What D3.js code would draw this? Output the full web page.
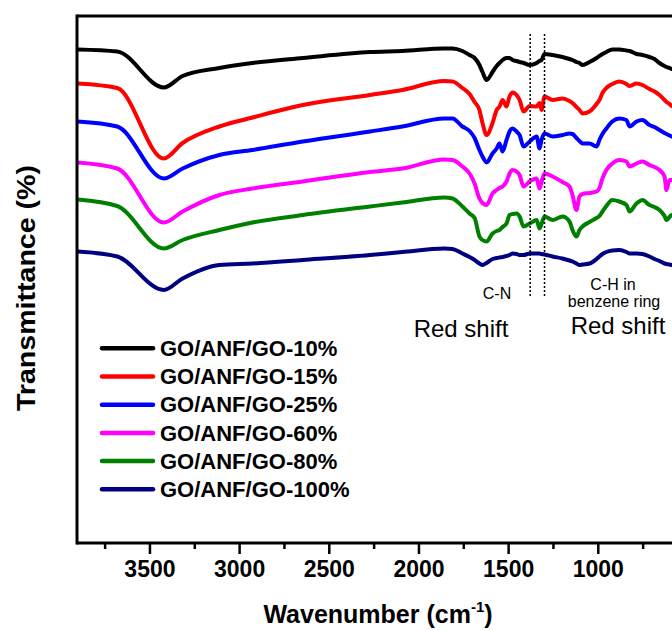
<!DOCTYPE html>
<html>
<head>
<meta charset="utf-8">
<script src="https://cdn.jsdelivr.net/npm/d3@7/dist/d3.min.js"></script>
<style>
  html, body { margin: 0; padding: 0; background: #fff; }
  svg { display: block; font-family: "Liberation Sans", Arial, sans-serif; }
</style>
</head>
<body>
<svg id="chart" width="672" height="630"></svg>
<script>
// ---------- data ----------
const wavenumbers = [3900, 3680, 3420, 3315, 3110, 2925, 2645, 2270, 2090, 1855, 1810, 1755, 1715, 1687, 1660, 1643, 1620, 1587, 1564, 1548, 1531, 1509, 1492, 1475, 1453, 1436, 1414, 1380, 1341, 1325, 1314, 1297, 1252, 1197, 1158, 1141, 1119, 1102, 1085, 1046, 1007, 991, 974, 952, 919, 880, 840, 823, 784, 751, 712, 684, 656, 628, 617, 600, 589];

const seriesNames = ["GO/ANF/GO-10%", "GO/ANF/GO-15%", "GO/ANF/GO-25%", "GO/ANF/GO-60%", "GO/ANF/GO-80%", "GO/ANF/GO-100%"];
const seriesColors = ["#000000", "#ff0000", "#0000ff", "#ff00ff", "#008000", "#000080"];

const go10 = [98.7, 98.3, 91.1, 93.4, 95, 96, 97, 98.2, 98.4, 98.9, 98.9, 98.4, 97.6, 97, 95.6, 94.2, 92.6, 94.2, 95.4, 96, 96.6, 97, 97, 96.6, 96.4, 96.2, 96, 95.6, 96, 96.4, 96.6, 97.8, 97.6, 97.2, 96.8, 96.6, 96.2, 96, 95.6, 96.2, 97, 97.4, 97.8, 98.2, 98.7, 98.7, 98.5, 98.4, 97.8, 97.6, 97.2, 96.8, 96, 95.4, 95.2, 95, 94.8];
const go15 = [91.9, 91, 76.9, 80, 83.3, 85.1, 87.6, 89.6, 90.6, 92.4, 92.3, 91, 89.8, 88.2, 86.6, 84, 81.6, 84, 86.6, 87.3, 88.6, 87.3, 89.3, 90.1, 89.6, 88.6, 86.3, 87.4, 87.3, 88, 86.6, 89.3, 88.6, 88.9, 88.4, 88, 87.2, 86.6, 85.9, 86.3, 87.8, 88.6, 90, 91, 91.8, 92.3, 91.8, 91.4, 91.9, 91.6, 90.8, 90.3, 89.6, 88.6, 88.2, 87.8, 87.4];
const go25 = [84.3, 83.3, 72.9, 74.9, 77.6, 78.6, 80.3, 82.3, 83.3, 84.9, 84.9, 83.3, 82.4, 81, 78.6, 77.3, 76.1, 77.9, 78.9, 79.9, 78.3, 80.6, 82.3, 82.9, 82.3, 81.6, 79.3, 80.3, 81.3, 78.9, 80.6, 81.9, 81.3, 81.6, 81.9, 81.8, 81, 80.4, 79.9, 79.9, 79.3, 80.6, 81.8, 82.9, 84.3, 84.9, 84.6, 83.3, 84.3, 84.6, 83.6, 83.2, 82.6, 82, 81.8, 81.5, 81.3];
const go60 = [76.1, 74.9, 64.1, 66.3, 69.6, 70.9, 72.3, 74.2, 74.9, 76.7, 76.6, 75.3, 73.9, 71.9, 68.9, 68, 67.6, 69.9, 70.6, 71, 71.3, 72.3, 73.9, 74.6, 74.3, 73.6, 71.3, 72.3, 72.9, 70.9, 72.2, 73.9, 73.3, 72.2, 71.3, 69.6, 66.6, 69.3, 69.8, 70, 70.3, 71, 72.9, 74.6, 75.9, 76.6, 76.3, 75.3, 75.9, 76.3, 75.6, 75.2, 74.6, 73.3, 70.6, 72.6, 72.6];
const go80 = [68.7, 67.4, 58.9, 60.6, 62.6, 64.1, 65.6, 67.3, 68.1, 69.1, 68.9, 67.3, 65.9, 65, 61.3, 60.6, 60.3, 61.9, 62.4, 62.6, 63.2, 63.9, 65.6, 65.8, 65.9, 65.3, 63.3, 63.9, 64.6, 62.9, 63.8, 65.3, 64.6, 65.3, 64.3, 62.6, 61.3, 62.6, 63.3, 64.2, 65, 65.4, 66.3, 67.4, 68.6, 68.3, 67.6, 66.3, 67.9, 68.6, 67.6, 67.2, 66.6, 65.4, 64.6, 65.2, 65.6];
const go100 = [58.3, 57.3, 50.6, 52.9, 55.6, 55.9, 56.6, 57.6, 58.2, 58.9, 58.8, 57.9, 57.2, 56.6, 55.9, 55.6, 56, 56.8, 57, 57.1, 57.2, 57.4, 57.6, 57.9, 57.8, 57.6, 57.6, 57.9, 57.9, 57.9, 57.8, 57.7, 57.3, 56.9, 56.5, 56.3, 55.9, 55.6, 55.7, 55.9, 56.8, 57.3, 57.8, 58.2, 58.5, 58.6, 58.2, 57.9, 57.9, 57.8, 57.3, 56.8, 56.4, 55.9, 55.8, 55.7, 55.6];

const seriesValues = [go10, go15, go25, go60, go80, go100];

const majorTicks = [3500, 3000, 2500, 2000, 1500, 1000];
const minorTicks = [3750, 3250, 2750, 2250, 1750, 1250, 750];
const markerLines = [1377, 1297];

// ---------- layout ----------
const svg = d3.select("#chart");
const plotLeft = 77, plotRight = 671.5, plotTop = 16, plotBottom = 543;

const x = d3.scaleLinear().domain([3904, 589]).range([plotLeft, plotRight]);
const y = d3.scaleLinear().domain([0, 105.4]).range([plotBottom, plotTop]);

svg.append("defs").append("clipPath").attr("id", "plotclip")
  .append("rect").attr("x", plotLeft).attr("y", plotTop)
  .attr("width", plotRight - plotLeft + 2).attr("height", plotBottom - plotTop);

// curves
const line = d3.line()
  .x(d => x(d[0]))
  .y(d => y(d[1]))
  .curve(d3.curveMonotoneX);

const curves = svg.append("g").attr("clip-path", "url(#plotclip)");
seriesValues.forEach((vals, i) => {
  const pts = wavenumbers.map((w, j) => [w, vals[j]]);
  curves.append("path")
    .datum(pts)
    .attr("d", line)
    .attr("fill", "none")
    .attr("stroke", seriesColors[i])
    .attr("stroke-width", 4)
    .attr("stroke-linejoin", "round")
    .attr("stroke-linecap", "round");
});

// dotted marker lines
svg.append("g").selectAll("line").data(markerLines).join("line")
  .attr("x1", d => x(d)).attr("x2", d => x(d))
  .attr("y1", 34).attr("y2", 298)
  .attr("stroke", "#000").attr("stroke-width", 1.5)
  .attr("stroke-dasharray", "2,2");

// frame
const frame = svg.append("g").attr("stroke", "#000").attr("stroke-width", 3).attr("fill", "none");
frame.append("line").attr("x1", plotLeft).attr("x2", plotLeft).attr("y1", plotTop - 1.5).attr("y2", plotBottom + 1.5);
frame.append("line").attr("x1", plotLeft).attr("x2", 672).attr("y1", plotTop).attr("y2", plotTop);
frame.append("line").attr("x1", plotLeft).attr("x2", 672).attr("y1", plotBottom).attr("y2", plotBottom);

// axes ticks
const majorAxis = d3.axisBottom(x).tickValues(majorTicks).tickSize(11).tickPadding(12).tickFormat(d3.format("d"));
const minorAxis = d3.axisBottom(x).tickValues(minorTicks).tickSize(6).tickFormat("");

const gMinor = svg.append("g").attr("transform", `translate(0,${plotBottom})`).call(minorAxis);
gMinor.select(".domain").remove();
gMinor.selectAll(".tick line").attr("stroke", "#000").attr("stroke-width", 2.5);

const gMajor = svg.append("g").attr("transform", `translate(0,${plotBottom})`).call(majorAxis);
gMajor.select(".domain").remove();
gMajor.selectAll(".tick line").attr("stroke", "#000").attr("stroke-width", 2.5);
gMajor.selectAll(".tick text")
  .attr("font-family", "'Liberation Sans', Arial, sans-serif")
  .attr("font-size", 23).attr("font-weight", "bold").attr("fill", "#000")
  .attr("dy", null).attr("y", 34);

// axis titles
const xt = svg.append("text")
  .attr("x", 378).attr("y", 623)
  .attr("text-anchor", "middle")
  .attr("font-size", 25).attr("font-weight", "bold").attr("fill", "#000");
xt.append("tspan").text("Wavenumber (cm");
xt.append("tspan").attr("font-size", 15).attr("dy", -11).text("-1");
xt.append("tspan").attr("dy", 11).text(")");

svg.append("text")
  .attr("transform", "translate(35,288) rotate(-90)")
  .attr("text-anchor", "middle")
  .attr("font-size", 25).attr("font-weight", "bold").attr("fill", "#000")
  .attr("textLength", 246).attr("lengthAdjust", "spacingAndGlyphs")
  .text("Transmittance (%)");

// legend
const legendY0 = 348.3, legendDY = 28.2;
const lg = svg.append("g");
seriesNames.forEach((name, i) => {
  const yy = legendY0 + i * legendDY;
  lg.append("line")
    .attr("x1", 102).attr("x2", 153).attr("y1", yy).attr("y2", yy)
    .attr("stroke", seriesColors[i]).attr("stroke-width", 4.5).attr("stroke-linecap", "round");
  lg.append("text")
    .attr("x", 160).attr("y", yy + 7.6)
    .attr("font-size", 22).attr("font-weight", "bold").attr("fill", "#000")
    .text(name);
});

// annotations
const ann = svg.append("g").attr("fill", "#000").attr("text-anchor", "middle");
ann.append("text").attr("x", 497).attr("y", 299).attr("font-size", 16).text("C-N");
ann.append("text").attr("x", 613).attr("y", 290).attr("font-size", 16).text("C-H in");
ann.append("text").attr("x", 614).attr("y", 307).attr("font-size", 16).text("benzene ring");
ann.append("text").attr("x", 461).attr("y", 337).attr("font-size", 24).text("Red shift");
ann.append("text").attr("x", 618).attr("y", 334).attr("font-size", 24).text("Red shift");
</script>
</body>
</html>
